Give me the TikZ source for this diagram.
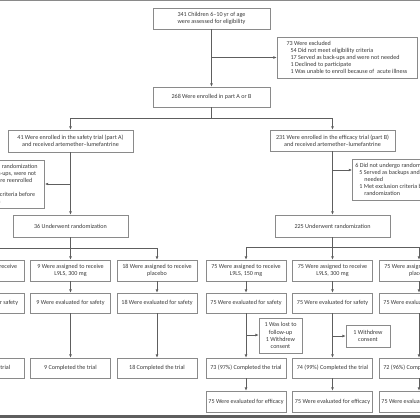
\documentclass[tikz,border=0pt]{standalone}
\usepackage{fontspec}
\setmainfont{Carlito}
\usetikzlibrary{arrows.meta}
\definecolor{rulegray}{HTML}{5E5E5E}
\definecolor{boxgray}{HTML}{8A8A8A}
\definecolor{inkgray}{HTML}{3A3A3A}
\tikzset{
	box/.style={draw=boxgray, line width=0.7pt, fill=white, text=inkgray, font=\fontsize{6.1}{7.1}\selectfont, align=center, inner sep=2pt, minimum width=80, minimum height=21},
	note/.style={box, align=left, minimum width=0, minimum height=0, inner sep=3pt},
	flow/.style={draw=rulegray, line width=0.6pt, -{Latex[length=3.2pt,width=2.8pt]}},
	link/.style={draw=rulegray, line width=0.6pt}
}

\begin{document}
\begin{tikzpicture}[x=1pt,y=-1pt]
			%%%%% START %%%%%
			\useasboundingbox (0,0) rectangle (420,420);
			\clip (0,0) rectangle (420,420);
			\fill[white] (0,0) rectangle (420,420);
			
			% frame rules
			\draw[boxgray, line width=1.2pt] (0,0.6) -- (420,0.6);
			\draw[rulegray, line width=2.4pt] (0,416.5) -- (420,416.5);
			
			% screening
			\node[box, minimum width=117] (assess) at (211.5,18.5) {341 Children 6--10 yr of age\\were assessed for eligibility};
			\node[note, minimum width=140, minimum height=41] (excluded) at (347,57.5) {73 Were excluded\\
				\hspace*{4pt}54 Did not meet eligibility criteria\\
				\hspace*{4pt}17 Served as back-ups and were not needed\\
				\hspace*{4pt}1 Declined to participate\\
				\hspace*{4pt}1 Was unable to enroll because of \ acute illness};
			\node[box, minimum width=117, minimum height=20] (enrolled) at (211.5,97) {268 Were enrolled in part A or B};
			
			% parts A and B
			\node[box, minimum width=125, minimum height=22] (partA) at (70.5,141) {41 Were enrolled in the safety trial (part A)\\and received artemether--lumefantrine};
			\node[box, minimum width=125, minimum height=21] (partB) at (332.5,140.5) {231 Were enrolled in the efficacy trial (part B)\\and received artemether--lumefantrine};
			\node[note, anchor=east, minimum height=48] (skipA) at (45,184) {5 Did not undergo randomization\hspace*{4pt}\\
				\hspace*{4pt}4 Served as back-ups, were not\\
				\hspace*{9pt}needed, or were reenrolled\\
				\hspace*{9pt}in part B\\
				\hspace*{4pt}1 Met exclusion criteria before\\
				\hspace*{9pt}randomization};
			\node[note, anchor=west, minimum height=41] (skipB) at (352,179.5) {6 Did not undergo randomization\\
				\hspace*{4pt}5 Served as backups and were not\\
				\hspace*{9pt}needed\\
				\hspace*{4pt}1 Met exclusion criteria before\\
				\hspace*{9pt}randomization};
			\node[box, minimum width=115, minimum height=22] (randA) at (70.5,226) {36 Underwent randomization};
			\node[box, minimum width=115, minimum height=22] (randB) at (332.5,226) {225 Underwent randomization};
			
			% part A arms
			\node[box] (asgA1) at (-16,270.5) {9 Were assigned to receive\\L9LS, 150 mg};
			\node[box] (asgA2) at (70.5,270.5) {9 Were assigned to receive\\L9LS, 300 mg};
			\node[box] (asgA3) at (157,270.5) {18 Were assigned to receive\\placebo};
			\node[box, minimum height=20] (evalA1) at (-16,303) {9 Were evaluated for safety};
			\node[box, minimum height=20] (evalA2) at (70.5,303) {9 Were evaluated for safety};
			\node[box, minimum height=20] (evalA3) at (157,303) {18 Were evaluated for safety};
			\node[box, minimum height=20] (doneA1) at (-16,368) {9 Completed the trial};
			\node[box, minimum height=20] (doneA2) at (70.5,368) {9 Completed the trial};
			\node[box, minimum height=20] (doneA3) at (157,368) {18 Completed the trial};
			
			% part B arms
			\node[box] (asgB1) at (246,270.5) {75 Were assigned to receive\\L9LS, 150 mg};
			\node[box] (asgB2) at (332.5,270.5) {75 Were assigned to receive\\L9LS, 300 mg};
			\node[box] (asgB3) at (419,270.5) {75 Were assigned to receive\\placebo};
			\node[box, minimum height=20] (evalB1) at (246,303) {75 Were evaluated for safety};
			\node[box, minimum height=20] (evalB2) at (332.5,303) {75 Were evaluated for safety};
			\node[box, minimum height=20] (evalB3) at (419,303) {75 Were evaluated for safety};
			\node[box, minimum width=43, minimum height=35, inner sep=1pt] (lostB1) at (280.5,335.5) {1 Was lost to\\follow-up\\1 Withdrew\\consent};
			\node[box, minimum width=44, minimum height=22, inner sep=1pt] (quitB2) at (368,336) {1 Withdrew\\consent};
			\node[box, minimum height=20] (doneB1) at (246,368) {73 (97\%) Completed the trial};
			\node[box, minimum height=20] (doneB2) at (332.5,368) {74 (99\%) Completed the trial};
			\node[box, minimum height=20] (doneB3) at (419,368) {72 (96\%) Completed the trial};
			\node[box] (effB1) at (246,401.5) {75 Were evaluated for efficacy};
			\node[box] (effB2) at (332.5,401.5) {75 Were evaluated for efficacy};
			\node[box] (effB3) at (419,401.5) {75 Were evaluated for efficacy};
			
			% connectors, screening
			\draw[flow] (assess) -- (enrolled);
			\draw[flow] (assess.south |- excluded.west) -- (excluded.west);
			\coordinate (splitAB) at (211.5,118);
			\draw[link] (enrolled) -- (splitAB);
			\draw[flow] (splitAB) -| (partA);
			\draw[flow] (splitAB) -| (partB);
			
			% connectors, randomization
			\draw[flow] (partA) -- (randA);
			\draw[flow] (partA.south |- skipA.east) -- (skipA.east);
			\draw[flow] (partB) -- (randB);
			\coordinate (forkB) at (332.5,170);
			\draw[flow] (forkB) -- (forkB -| skipB.west);
			
			\coordinate (splitA) at (70.5,248);
			\draw[link] (randA) -- (splitA);
			\draw[flow] (splitA) -| (asgA1);
			\draw[flow] (splitA) -- (asgA2);
			\draw[flow] (splitA) -| (asgA3);
			\coordinate (splitB) at (332.5,247.5);
			\draw[link] (randB) -- (splitB);
			\draw[flow] (splitB) -| (asgB1);
			\draw[flow] (splitB) -- (asgB2);
			\draw[flow] (splitB) -| (asgB3);
			
			% connectors, follow-up
			\draw[flow] (asgA1) -- (evalA1);
			\draw[flow] (asgA2) -- (evalA2);
			\draw[flow] (asgA3) -- (evalA3);
			\draw[flow] (evalA1) -- (doneA1);
			\draw[flow] (evalA2) -- (doneA2);
			\draw[flow] (evalA3) -- (doneA3);
			
			\draw[flow] (asgB1) -- (evalB1);
			\draw[flow] (asgB2) -- (evalB2);
			\draw[flow] (asgB3) -- (evalB3);
			\draw[flow] (evalB1) -- (doneB1);
			\draw[flow] (evalB2) -- (doneB2);
			\draw[flow] (evalB3) -- (doneB3);
			\coordinate (lossB1) at (246,335);
			\draw[flow] (lossB1) -- (lossB1 -| lostB1.west);
			\coordinate (lossB2) at (332.5,336);
			\draw[flow] (lossB2) -- (quitB2.west);
			\draw[flow] (doneB1) -- (effB1);
			\draw[flow] (doneB2) -- (effB2);
			\draw[flow] (doneB3) -- (effB3);
			
			%%%%% END %%%%%
\end{tikzpicture}
\end{document}
